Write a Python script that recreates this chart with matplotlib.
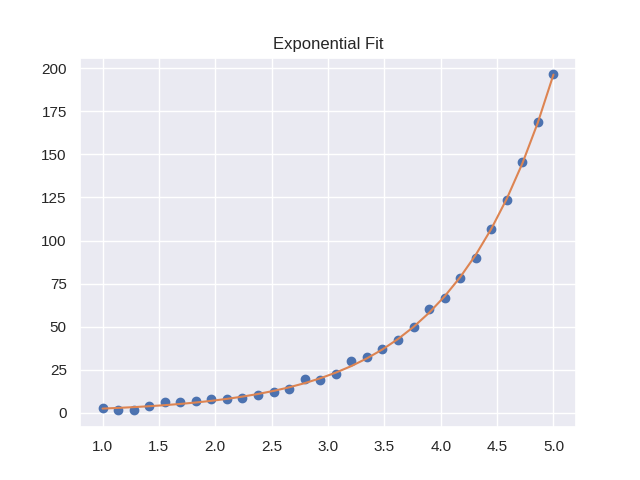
import numpy as np
import matplotlib.pyplot as plt
import seaborn as sns

sns.set_theme()
plt.rcParams['font.family'] = ['Liberation Sans', 'DejaVu Sans']

# data
x = np.linspace(1, 5, 30)
y = [2.7, 1.3, 1.3, 4.1, 6.0, 6.0, 6.6, 7.7, 7.7, 8.5,
     10.1, 11.8, 13.5, 19.4, 18.7, 22.7, 29.8, 32.1, 36.8, 42.0,
     49.6, 60.0, 66.5, 78.5, 90.1, 106.6, 123.8, 145.5, 168.8, 196.5]
y = np.array(y)

# exponential fit y = a*exp(b*x)
b, loga = np.polyfit(x, np.log(y), 1, w=np.sqrt(y))
a = np.exp(loga)
for _ in range(20):
    # gauss-newton refinement
    f = a * np.exp(b * x)
    J = np.column_stack([np.exp(b * x), a * x * np.exp(b * x)])
    step = np.linalg.lstsq(J, y - f, rcond=None)[0]
    a, b = a + step[0], b + step[1]
fit = a * np.exp(b * x)

fig, ax = plt.subplots(figsize=(6.4, 4.8), dpi=100)
ax.scatter(x, y)
ax.plot(x, fit, color='C1')
ax.set_title("Exponential Fit")
ax.set_yticks([0, 25, 50, 75, 100, 125, 150, 175, 200])

plt.savefig("out.png")
